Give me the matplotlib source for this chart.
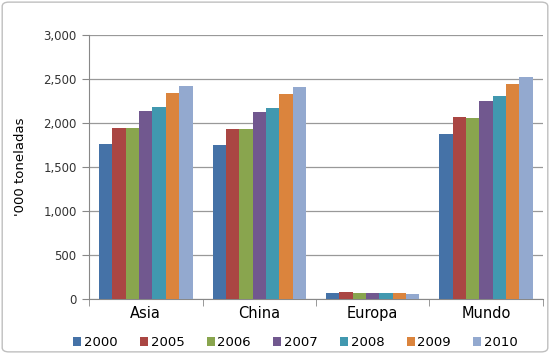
import numpy as np
import matplotlib.pyplot as plt
from matplotlib.patches import FancyBboxPatch

plt.rc('font', family='DejaVu Sans')

regions = ['Asia', 'China', 'Europa', 'Mundo']
years = ['2000', '2005', '2006', '2007', '2008', '2009', '2010']
vals = {
    '2000': [1761, 1750, 75, 1875],
    '2005': [1947, 1932, 82, 2072],
    '2006': [1947, 1932, 73, 2060],
    '2007': [2140, 2128, 73, 2254],
    '2008': [2185, 2174, 73, 2303],
    '2009': [2337, 2330, 73, 2443],
    '2010': [2420, 2405, 60, 2526],
}
cs = ['#4572A7', '#AA4643', '#89A54E', '#71588F', '#4198AF', '#DB843D', '#93A9CF']


def plot():
    fig = plt.figure(figsize=[5.5, 3.54], dpi=100)
    fig.patches.append(FancyBboxPatch((0.004, 0.006), 0.992, 0.988, boxstyle='round,pad=0,rounding_size=0.012',
                                      transform=fig.transFigure, fc='none', ec='#bfbfbf', lw=1, zorder=-1))
    ax = fig.add_axes([0.162, 0.155, 0.825, 0.746])
    ax.patch.set_alpha(0)
    n = len(years)
    bw = 1.0 / (n + 1.5)
    x = np.arange(len(regions))
    for i, y in enumerate(years):
        ax.bar(x - 0.5 + 0.75 * bw + (i + 0.5) * bw, vals[y], width=bw, color=cs[i], label=y, zorder=3)
    ax.set_xlim(-0.5, len(regions) - 0.5)
    ax.set_ylim(0, 3000)
    ax.set_yticks(range(0, 3001, 500))
    ax.set_yticklabels(['{:,}'.format(v) for v in range(0, 3001, 500)], fontsize=8.5, color='#333333')
    ax.set_xticks(x)
    ax.set_xticklabels(regions, fontsize=10.5)
    ax.set_xticks(np.arange(-0.5, len(regions)), minor=True)
    ax.tick_params(axis='x', which='major', length=0, pad=5)
    ax.tick_params(axis='x', which='minor', length=5, color='#888888', direction='out')
    ax.tick_params(axis='y', length=5, color='#888888', direction='out', pad=4)
    ax.grid(axis='y', color='#999999', lw=0.9, zorder=0)
    for d in ['top', 'right']:
        ax.spines[d].set_visible(False)
    for d in ['left', 'bottom']:
        ax.spines[d].set_color('#888888')
    ax.set_ylabel("'000 toneladas", fontsize=9.5, labelpad=12)
    ax.legend(loc='upper center', bbox_to_anchor=(0.455, -0.095), ncol=7, frameon=False, fontsize=9.5,
              handlelength=0.6, handleheight=0.6, handletextpad=0.2, columnspacing=1.7)
    plt.savefig('out.png')
    plt.close()


plot()
